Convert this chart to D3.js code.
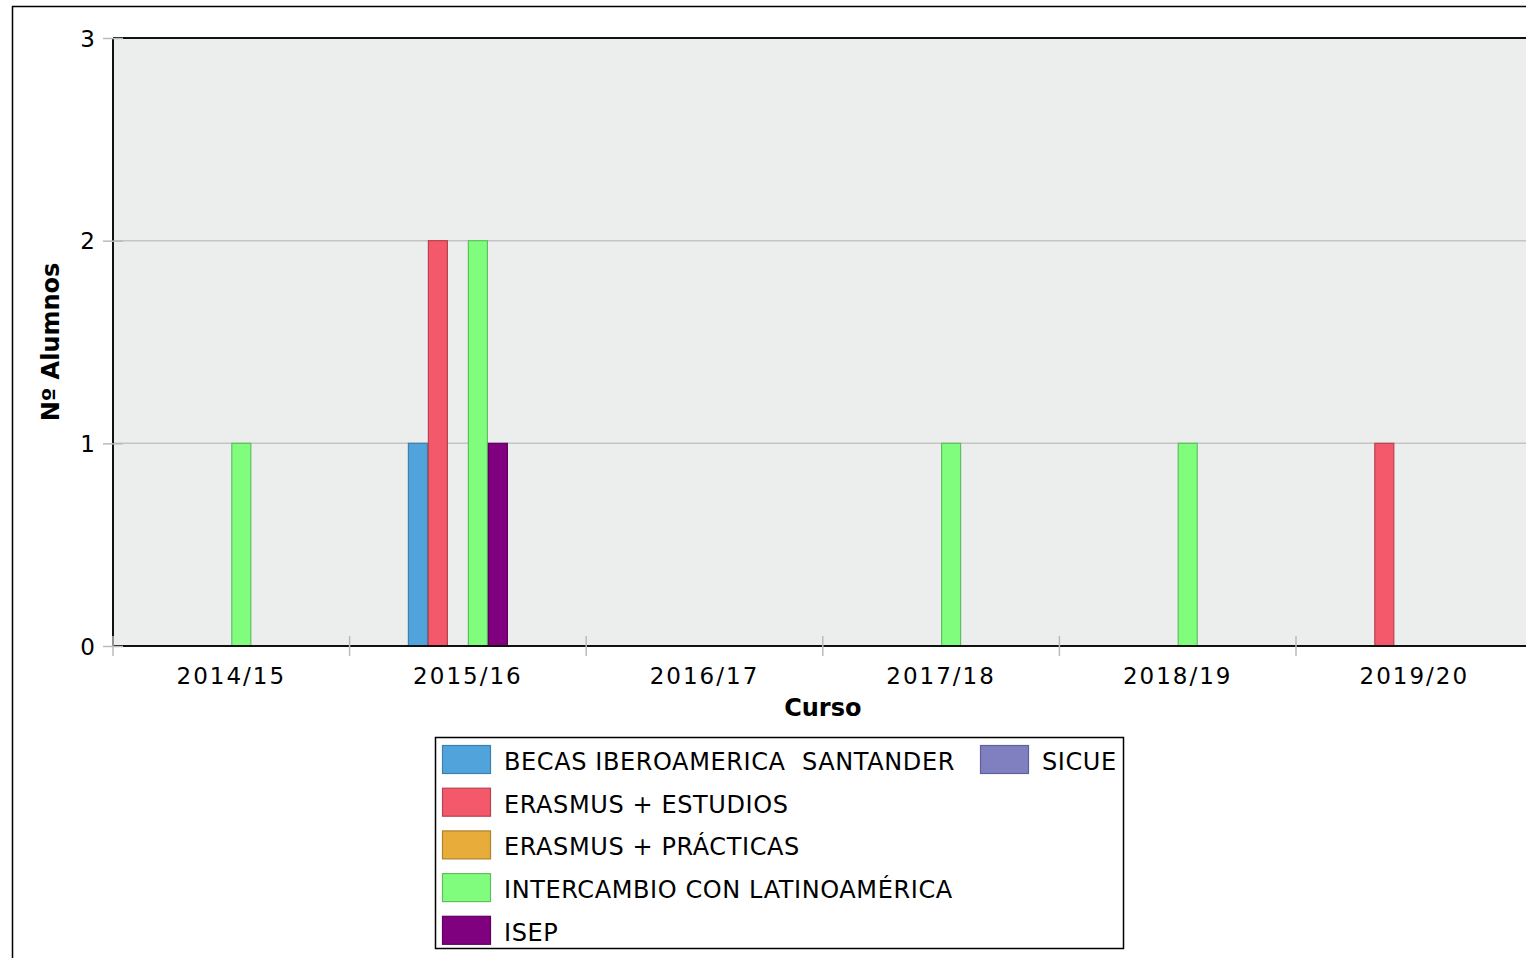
<!DOCTYPE html>
<html>
<head>
<meta charset="utf-8">
<script src="https://cdn.jsdelivr.net/npm/d3@7"></script>
<style>
  body { margin: 0; background: #fff; }
  text { font-family: "DejaVu Sans", sans-serif; fill: #000; }
</style>
</head>
<body>
<div id="chart"></div>
<script>
var svgWidth = 1526
var svgHeight = 958

// data
var cursos = ["2014/15", "2015/16", "2016/17", "2017/18", "2018/19", "2019/20"]
var programas = ["BECAS IBEROAMERICA  SANTANDER", "ERASMUS + ESTUDIOS", "ERASMUS + PRÁCTICAS",
                 "INTERCAMBIO CON LATINOAMÉRICA", "ISEP", "SICUE"]
var becas = [0, 1, 0, 0, 0, 0]
var erasmusEstudios = [0, 2, 0, 0, 0, 1]
var erasmusPracticas = [0, 0, 0, 0, 0, 0]
var intercambio = [1, 2, 0, 1, 1, 0]
var isep = [0, 1, 0, 0, 0, 0]
var sicue = [0, 0, 0, 0, 0, 0]
var yTicks = [0, 1, 2, 3]

var colores = ["#50a4db", "#f3586b", "#e8ac3a", "#80fd7d", "#800080", "#8080c0"]
var bordes = ["#3e80ab", "#b8434f", "#b0822b", "#60c060", "#600060", "#6060a0"]

var valores = [becas, erasmusEstudios, erasmusPracticas, intercambio, isep, sicue]

var svg = d3.select("#chart").append("svg").attr("width", svgWidth).attr("height", svgHeight)

var plot = { left: 113, top: 38, bottom: 646, right: 113 + 6 * 236.6 }

// outer frame
svg.append("line").attr("x1", 12).attr("x2", svgWidth).attr("y1", 6.5).attr("y2", 6.5)
    .attr("stroke", "#000").attr("stroke-width", 1.5)
svg.append("line").attr("x1", 12.5).attr("x2", 12.5).attr("y1", 6).attr("y2", svgHeight)
    .attr("stroke", "#000").attr("stroke-width", 1.5)

var xScale = d3.scaleBand().domain(cursos).range([plot.left, plot.right]).padding(0)
var xInner = d3.scaleBand().domain(programas)
    .range([xScale.bandwidth() / 2 - 60, xScale.bandwidth() / 2 + 60])
var yScale = d3.scaleLinear().domain([0, 3]).range([plot.bottom, plot.top])

// plot background
svg.append("rect").attr("x", plot.left).attr("y", plot.top)
    .attr("width", plot.right - plot.left).attr("height", plot.bottom - plot.top)
    .attr("fill", "#eceeed")

// grid
svg.append("g").selectAll("line").data([1, 2]).enter().append("line")
    .attr("x1", plot.left).attr("x2", plot.right)
    .attr("y1", d => yScale(d)).attr("y2", d => yScale(d))
    .attr("stroke", "#c4c4c4").attr("stroke-width", 1.5)

// bars
var tabla = []
cursos.forEach(function (c, i) {
    programas.forEach(function (p, j) {
        tabla.push({ curso: c, programa: p, valor: valores[j][i], idx: j })
    })
})

svg.append("g").selectAll("rect")
    .data(tabla.filter(d => d.valor > 0))
    .enter()
    .append("rect")
    .attr("x", d => xScale(d.curso) + xInner(d.programa) + 0.5)
    .attr("y", d => yScale(d.valor))
    .attr("width", xInner.bandwidth() - 1)
    .attr("height", d => yScale(0) - yScale(d.valor))
    .attr("fill", d => colores[d.idx])
    .attr("stroke", d => bordes[d.idx])
    .attr("stroke-width", 1.2)

// plot border
svg.append("line").attr("x1", plot.left).attr("x2", plot.right).attr("y1", plot.top).attr("y2", plot.top)
    .attr("stroke", "#111").attr("stroke-width", 2)
svg.append("line").attr("x1", plot.left).attr("x2", plot.right).attr("y1", plot.bottom).attr("y2", plot.bottom)
    .attr("stroke", "#111").attr("stroke-width", 2)
svg.append("line").attr("x1", plot.left).attr("x2", plot.left).attr("y1", plot.top).attr("y2", plot.bottom)
    .attr("stroke", "#111").attr("stroke-width", 2)

// y axis
var leftAxis = d3.axisLeft(yScale).tickValues(yTicks).tickFormat(d3.format("d")).tickSize(10).tickPadding(8)
var gy = svg.append("g").attr("transform", `translate(${plot.left}, 0)`).call(leftAxis)
gy.select(".domain").remove()
gy.selectAll(".tick line").attr("x1", 10).attr("stroke", "#bbb").attr("stroke-width", 1.5)
gy.selectAll(".tick text").attr("font-size", "23px").attr("dy", "0.36em").attr("font-family", "DejaVu Sans")

// x axis
var bottomAxis = d3.axisBottom(xScale).tickSize(0).tickPadding(22)
var gx = svg.append("g").attr("transform", `translate(0, ${plot.bottom})`).call(bottomAxis)
gx.select(".domain").remove()
gx.selectAll(".tick text").attr("font-size", "23px").attr("font-family", "DejaVu Sans")
    .attr("letter-spacing", "2px")

var limites = cursos.map(c => xScale(c))
svg.append("g").selectAll("line").data(limites).enter().append("line")
    .attr("x1", d => d).attr("x2", d => d)
    .attr("y1", plot.bottom - 10).attr("y2", plot.bottom + 10)
    .attr("stroke", "#bbb").attr("stroke-width", 1.5)

// axis titles
svg.append("text")
    .attr("x", (plot.left + plot.right) / 2)
    .attr("y", 716)
    .attr("text-anchor", "middle")
    .attr("font-size", "24px")
    .attr("font-weight", "bold")
    .text("Curso")

svg.append("text")
    .attr("transform", "translate(59, 342) rotate(-90)")
    .attr("text-anchor", "middle")
    .attr("font-size", "24px")
    .attr("font-weight", "bold")
    .text("Nº Alumnos")

// legend
var legend = svg.append("g")
legend.append("rect").attr("x", 435.5).attr("y", 737.5).attr("width", 688).attr("height", 211)
    .attr("fill", "#fff").attr("stroke", "#000").attr("stroke-width", 1.5)

var legendPos = programas.map(function (p, i) {
    if (i < 5) return { x: 442, y: 745 + i * 42.7 }
    return { x: 980, y: 745 }
})

var items = legend.selectAll(".item").data(programas).enter().append("g")
    .attr("transform", (d, i) => `translate(${legendPos[i].x}, ${legendPos[i].y})`)
items.append("rect").attr("x", 0.5).attr("y", 0.5).attr("width", 48).attr("height", 28)
    .attr("fill", (d, i) => colores[i]).attr("stroke", (d, i) => bordes[i]).attr("stroke-width", 1.2)
items.append("text").attr("x", 62).attr("y", 25)
    .attr("font-size", "24px")
    .attr("font-family", "DejaVu Sans Condensed, DejaVu Sans")
    .attr("letter-spacing", "0.6px")
    .style("white-space", "pre")
    .text(d => d)
</script>
</body>
</html>
